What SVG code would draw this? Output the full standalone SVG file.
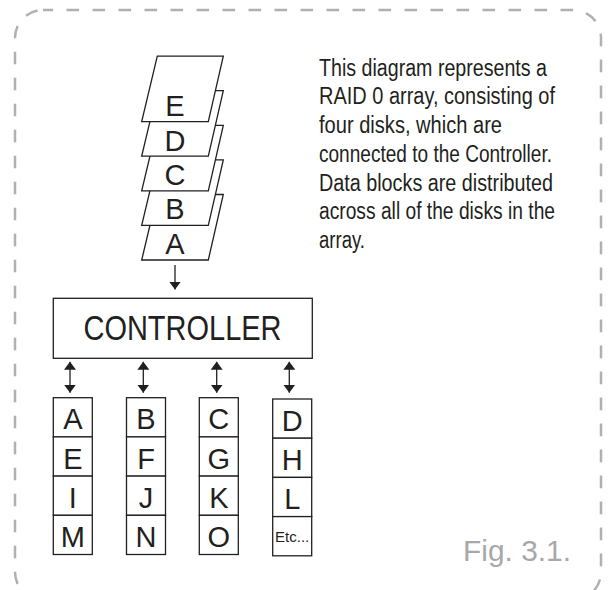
<svg xmlns="http://www.w3.org/2000/svg" width="611" height="590" viewBox="0 0 611 590">
<style>
.frame{fill:none;stroke:#b0b0b0;stroke-width:2.5;stroke-dasharray:12.6 13.4;stroke-dashoffset:2.5}
.shape{fill:#fff;stroke:#231f20;stroke-width:1.3}
.lbl{font-family:"Liberation Sans",Arial,sans-serif;fill:#231f20;text-anchor:middle}
.big{font-size:29px}
.desc{font-family:"Liberation Sans",Arial,sans-serif;font-size:23px;fill:#231f20}
.fig{font-family:"Liberation Sans",Arial,sans-serif;font-size:30px;fill:#a8a8a8}
.conn{stroke:#231f20;stroke-width:1.3;fill:none}
</style>
<defs>
<marker id="ah" viewBox="0 0 8 12" refX="8" refY="6" markerWidth="8" markerHeight="12" markerUnits="userSpaceOnUse" orient="auto-start-reverse" preserveAspectRatio="none">
<path d="M0,0 L8,6 L0,12 z" fill="#231f20"/>
</marker>
</defs>
<rect class="frame" x="15" y="10" width="586" height="590" rx="28" ry="28"/>

<g id="packet-A">
<polygon class="shape" points="157.3,194.5 223.3,194.5 208.3,260 141.7,260"/>
<text class="lbl big" x="175" y="254">A</text>
</g>
<g id="packet-B">
<polygon class="shape" points="157.3,159.9 223.3,159.9 208.3,225.4 141.7,225.4"/>
<text class="lbl big" x="175" y="219">B</text>
</g>
<g id="packet-C">
<polygon class="shape" points="157.3,125.3 223.3,125.3 208.3,190.8 141.7,190.8"/>
<text class="lbl big" x="175" y="185">C</text>
</g>
<g id="packet-D">
<polygon class="shape" points="157.3,90.7 223.3,90.7 208.3,156.2 141.7,156.2"/>
<text class="lbl big" x="175" y="150.5">D</text>
</g>
<g id="packet-E">
<polygon class="shape" points="157.3,56.1 223.3,56.1 208.3,121.6 141.7,121.6"/>
<text class="lbl big" x="175" y="116">E</text>
</g>

<g id="controller">
<rect class="shape" x="53.3" y="298.3" width="259" height="60"/>
<text class="lbl" x="182.5" y="339.5" font-size="35" textLength="198" lengthAdjust="spacingAndGlyphs">CONTROLLER</text>
</g>

<g id="disk1">
<rect class="shape" x="53.3" y="397.7" width="39" height="39.2"/>
<rect class="shape" x="53.3" y="436.9" width="39" height="39.2"/>
<rect class="shape" x="53.3" y="476.1" width="39" height="39.2"/>
<rect class="shape" x="53.3" y="515.3" width="39" height="39.2"/>
<text class="lbl big" x="72.8" y="429.3">A</text>
<text class="lbl big" x="72.8" y="468.5">E</text>
<text class="lbl big" x="72.8" y="507.7">I</text>
<text class="lbl big" x="72.8" y="546.9">M</text>
</g>
<g id="disk2">
<rect class="shape" x="126.5" y="397.7" width="39" height="39.2"/>
<rect class="shape" x="126.5" y="436.9" width="39" height="39.2"/>
<rect class="shape" x="126.5" y="476.1" width="39" height="39.2"/>
<rect class="shape" x="126.5" y="515.3" width="39" height="39.2"/>
<text class="lbl big" x="146" y="429.3">B</text>
<text class="lbl big" x="146" y="468.5">F</text>
<text class="lbl big" x="146" y="507.7">J</text>
<text class="lbl big" x="146" y="546.9">N</text>
</g>
<g id="disk3">
<rect class="shape" x="199.3" y="397.7" width="39" height="39.2"/>
<rect class="shape" x="199.3" y="436.9" width="39" height="39.2"/>
<rect class="shape" x="199.3" y="476.1" width="39" height="39.2"/>
<rect class="shape" x="199.3" y="515.3" width="39" height="39.2"/>
<text class="lbl big" x="218.8" y="429.3">C</text>
<text class="lbl big" x="218.8" y="468.5">G</text>
<text class="lbl big" x="218.8" y="507.7">K</text>
<text class="lbl big" x="218.8" y="546.9">O</text>
</g>
<g id="disk4">
<rect class="shape" x="272.7" y="399" width="39" height="39.2"/>
<rect class="shape" x="272.7" y="438.2" width="39" height="39.2"/>
<rect class="shape" x="272.7" y="477.4" width="39" height="39.2"/>
<rect class="shape" x="272.7" y="516.6" width="39" height="39.2"/>
<text class="lbl big" x="292.2" y="430.6">D</text>
<text class="lbl big" x="292.2" y="469.8">H</text>
<text class="lbl big" x="292.2" y="509">L</text>
<text class="lbl" x="292.2" y="541.7" font-size="15">Etc...</text>
</g>

<g id="connectors">
<line class="conn" x1="175" y1="265" x2="175" y2="289.5" marker-end="url(#ah)"/>
<line class="conn" x1="70" y1="361.7" x2="70" y2="392.7" marker-start="url(#ah)" marker-end="url(#ah)"/>
<line class="conn" x1="143.3" y1="361.7" x2="143.3" y2="392.7" marker-start="url(#ah)" marker-end="url(#ah)"/>
<line class="conn" x1="216.7" y1="361.7" x2="216.7" y2="392.7" marker-start="url(#ah)" marker-end="url(#ah)"/>
<line class="conn" x1="289.3" y1="361.7" x2="289.3" y2="392.7" marker-start="url(#ah)" marker-end="url(#ah)"/>
</g>

<g id="description">
<text class="desc" x="319" y="75.5" textLength="228" lengthAdjust="spacingAndGlyphs">This diagram represents a</text>
<text class="desc" x="319" y="104.3" textLength="236" lengthAdjust="spacingAndGlyphs">RAID 0 array, consisting of</text>
<text class="desc" x="319" y="133" textLength="183" lengthAdjust="spacingAndGlyphs">four disks, which are</text>
<text class="desc" x="319" y="161.8" textLength="233" lengthAdjust="spacingAndGlyphs">connected to the Controller.</text>
<text class="desc" x="319" y="190.5" textLength="234" lengthAdjust="spacingAndGlyphs">Data blocks are distributed</text>
<text class="desc" x="319" y="219.3" textLength="236" lengthAdjust="spacingAndGlyphs">across all of the disks in the</text>
<text class="desc" x="319" y="248" textLength="46" lengthAdjust="spacingAndGlyphs">array.</text>
</g>

<text class="fig" x="463" y="561" textLength="108" lengthAdjust="spacingAndGlyphs">Fig. 3.1.</text>
</svg>
